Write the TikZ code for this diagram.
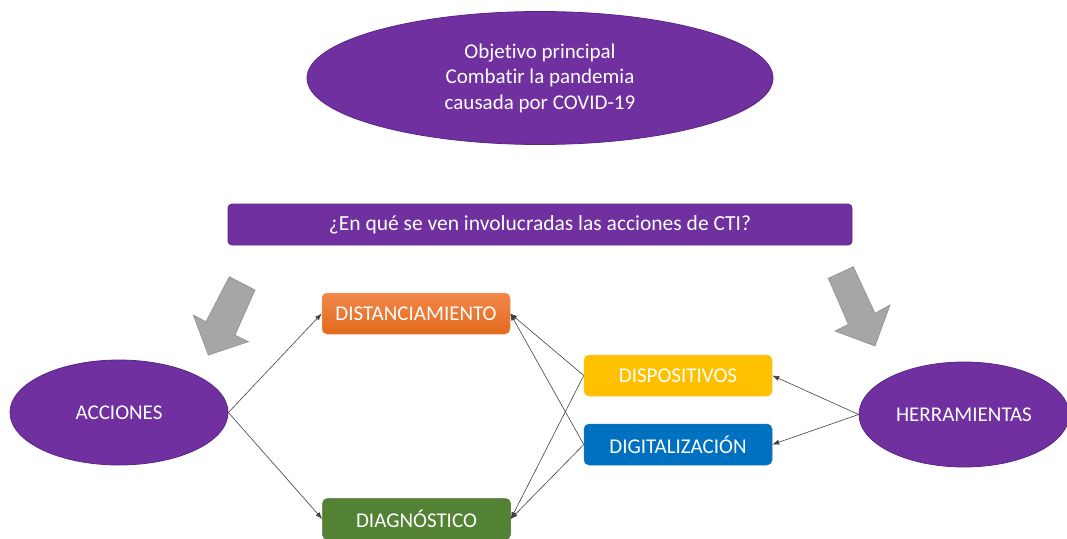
\documentclass[tikz,border=0pt]{standalone}
\usepackage{fontspec}
\setmainfont{Carlito}[Ligatures=NoCommon]
\usetikzlibrary{arrows.meta,shapes.geometric}
\definecolor{purp}{HTML}{7030A0}
\definecolor{purpd}{HTML}{5B2585}
\definecolor{grayar}{HTML}{A6A6A6}
\definecolor{grayard}{HTML}{8E8E8E}
\tikzset{
  oval/.style={ellipse, fill=purp, draw=purpd, line width=0.8pt, text=white, font=\fontsize{21}{25.5}\selectfont, align=center, inner sep=0pt},
  boxnode/.style={rectangle, rounded corners=5pt, text=white, font=\fontsize{21}{24}\selectfont, inner sep=0pt, minimum width=188pt, minimum height=41pt},
  conn/.style={draw=black!75, line width=0.6pt, -{Latex[length=7pt,width=5pt]}},
  bigarrow/.style={fill=grayar, draw=grayard, line width=0.6pt},
}
\begin{document}
\begin{tikzpicture}[x=1pt,y=-1pt]
\useasboundingbox (0,0) rectangle (1067,538);
\clip (0,0) rectangle (1067,538);
% top ellipse
\node[oval, minimum width=466pt, minimum height=133pt] (obj) at (540,78) {Objetivo principal\\Combatir la pandemia\\causada por COVID-19};
% question box
\node[rectangle, rounded corners=4pt, fill=purp, draw=purpd, line width=0.8pt, text=white, font=\fontsize{21.5}{24}\selectfont, minimum width=624pt, minimum height=41pt, inner sep=0pt] (q) at (540,224.5) {¿En qué se ven involucradas las acciones de CTI?};
% gray arrows
\draw[bigarrow] (229.3,276.7) -- (255,290) -- (235,335) -- (248.3,341.7) -- (208.3,355) -- (193.3,315) -- (206,321.7) -- cycle;
\draw[bigarrow] (828.3,278.3) -- (853.3,266.7) -- (875,313.3) -- (890,305) -- (875,346) -- (835,331) -- (848.3,324.3) -- cycle;
% ellipses
\node[oval, minimum width=218pt, minimum height=105pt] (acc) at (119,412.5) {ACCIONES};
\node[oval, minimum width=210pt, minimum height=105pt] (her) at (964,414.5) {HERRAMIENTAS};
% boxes
\node[boxnode, top color={rgb,255:red,242;green,135;blue,75}, bottom color={rgb,255:red,226;green,106;blue,28}, draw={rgb,255:red,240;green,150;blue,100}, line width=0.5pt] (dis) at (416,313.5) {DISTANCIAMIENTO};
\node[boxnode, fill={rgb,255:red,84;green,130;blue,53}, draw={rgb,255:red,70;green,110;blue,45}, line width=0.5pt] (dia) at (416.5,519) {DIAGNÓSTICO};
\node[boxnode, fill={rgb,255:red,255;green,192;blue,0}, draw={rgb,255:red,255;green,200;blue,40}, line width=0.5pt] (dsp) at (678,375.5) {DISPOSITIVOS};
\node[boxnode, fill={rgb,255:red,0;green,112;blue,192}, draw={rgb,255:red,40;green,120;blue,200}, line width=0.5pt] (dig) at (678,444.5) {DIGITALIZACIÓN};
% connectors
\draw[conn] (acc.east) -- (dis.west);
\draw[conn] (acc.east) -- (dia.west);
\draw[conn] (dsp.west) -- (dis.east);
\draw[conn] (dsp.west) -- (dia.east);
\draw[conn] (dig.west) -- (dis.east);
\draw[conn] (dig.west) -- (dia.east);
\draw[conn] (her.west) -- (dsp.east);
\draw[conn] (her.west) -- (dig.east);
\end{tikzpicture}
\end{document}
